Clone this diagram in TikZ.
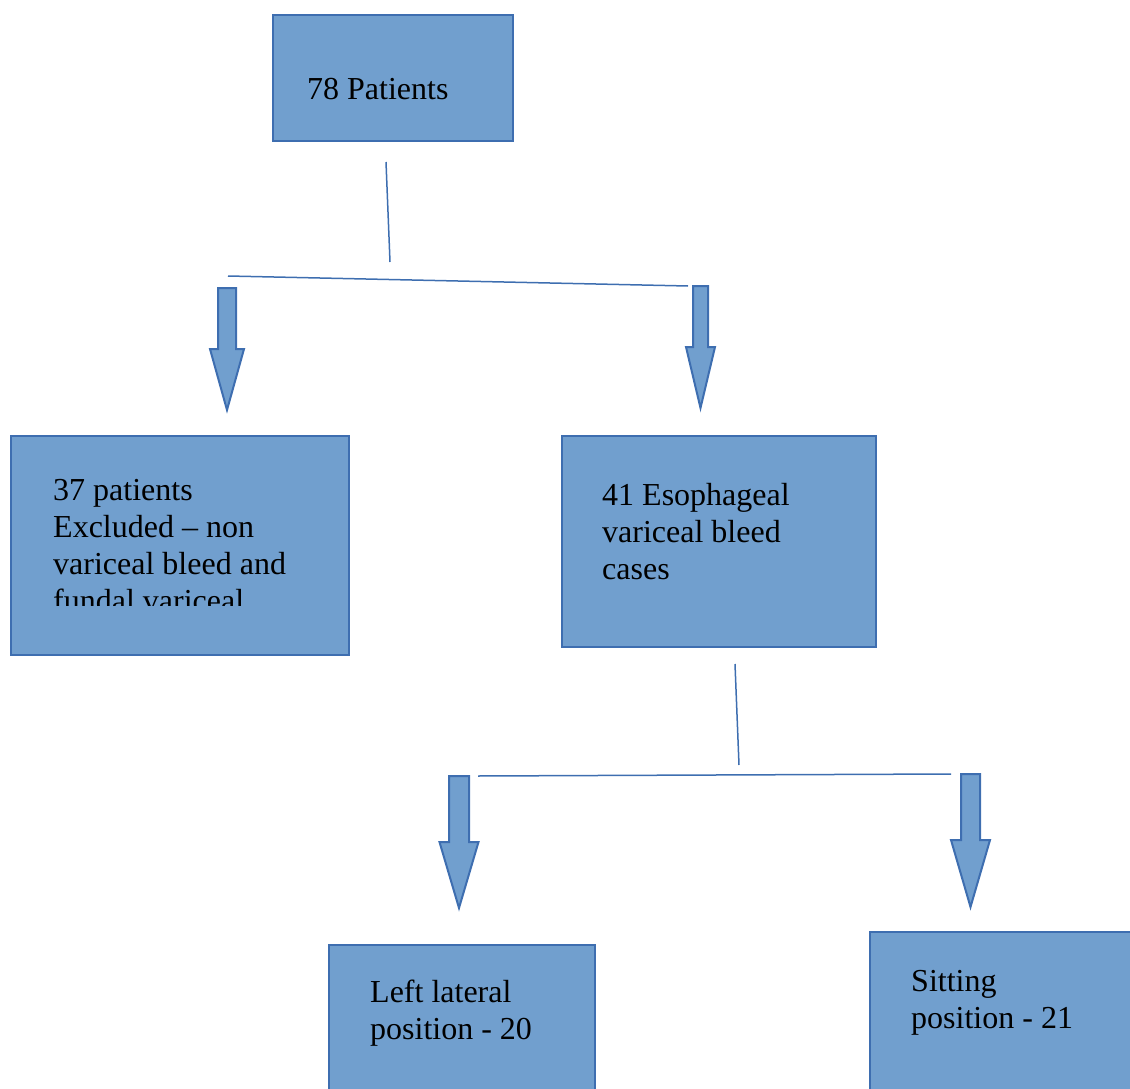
\documentclass[tikz,border=0pt]{standalone}
\usepackage{fontspec}
\setmainfont{Liberation Serif}
\definecolor{boxfill}{RGB}{113,159,206}
\definecolor{boxline}{RGB}{62,110,176}
\tikzset{
  flowbox/.style={draw=boxline, fill=boxfill, line width=2pt, inner sep=0pt, anchor=north west},
  boxtext/.style={anchor=base west, inner sep=0pt, align=left, font=\fontsize{32}{37}\selectfont},
  link/.style={draw=boxline, line width=1.5pt},
  blockarrow/.style={draw=boxline, fill=boxfill, line width=2pt, line join=miter}
}
% block arrow: centre x, shaft half width, head half width, top, head start, tip
\newcommand{\blkarrow}[6]{%
  \draw[blockarrow] ({#1-#2},#4) -- ({#1+#2},#4) -- ({#1+#2},#5) -- ({#1+#3},#5)
    -- (#1,#6) -- ({#1-#3},#5) -- ({#1-#2},#5) -- cycle;}
\begin{document}
\begin{tikzpicture}[x=1pt,y=-1pt]
            \clip (0,0) rectangle (1130,1089);

            % Draw the boxes
            \node[flowbox, minimum width=240pt, minimum height=126pt] (all) at (272,14) {};
            \node[flowbox, minimum width=338pt, minimum height=219pt] (excl) at (10,435) {};
            \node[flowbox, minimum width=314pt, minimum height=211pt] (evb) at (561,435) {};
            \node[flowbox, minimum width=266pt, minimum height=180pt] (lat) at (328,944) {};
            \node[flowbox, minimum width=300pt, minimum height=190pt] (sit) at (869,931) {};

            % Texts inside (anchored on the last line)
            \node[boxtext] (alltxt) at (307,100) {78 Patients};
            \begin{scope}
              \clip (excl.north west) rectangle (348,605);
              \node[boxtext] (excltxt) at (53,611) {37 patients\\Excluded -- non\\variceal bleed and\\fundal variceal};
            \end{scope}
            \node[boxtext] (evbtxt) at (602,579) {41 Esophageal\\variceal bleed\\cases};
            \node[boxtext] (lattxt) at (370,1039) {Left lateral\\position - 20};
            \node[boxtext] (sittxt) at (911,1028) {Sitting\\position - 21};

            % First split
            \coordinate (s1a) at (386,162);
            \coordinate (s1b) at (390,262);
            \coordinate (h1a) at (228,276);
            \coordinate (h1b) at (688,286);
            \draw[link] (s1a) -- (s1b);
            \draw[link] (h1a) -- (h1b);
            \blkarrow{227}{9}{17}{288}{349}{410}
            \blkarrow{700.5}{7.5}{14.5}{286}{347}{408}

            % Second split
            \coordinate (s2a) at (735,664);
            \coordinate (s2b) at (739,765);
            \coordinate (h2a) at (478,776);
            \coordinate (h2b) at (951,774);
            \draw[link] (s2a) -- (s2b);
            \draw[link] (h2a) -- (h2b);
            \blkarrow{459}{10}{19.5}{776}{842}{908}
            \blkarrow{970.5}{9.5}{19.5}{774}{840}{907}

\end{tikzpicture}
\end{document}
